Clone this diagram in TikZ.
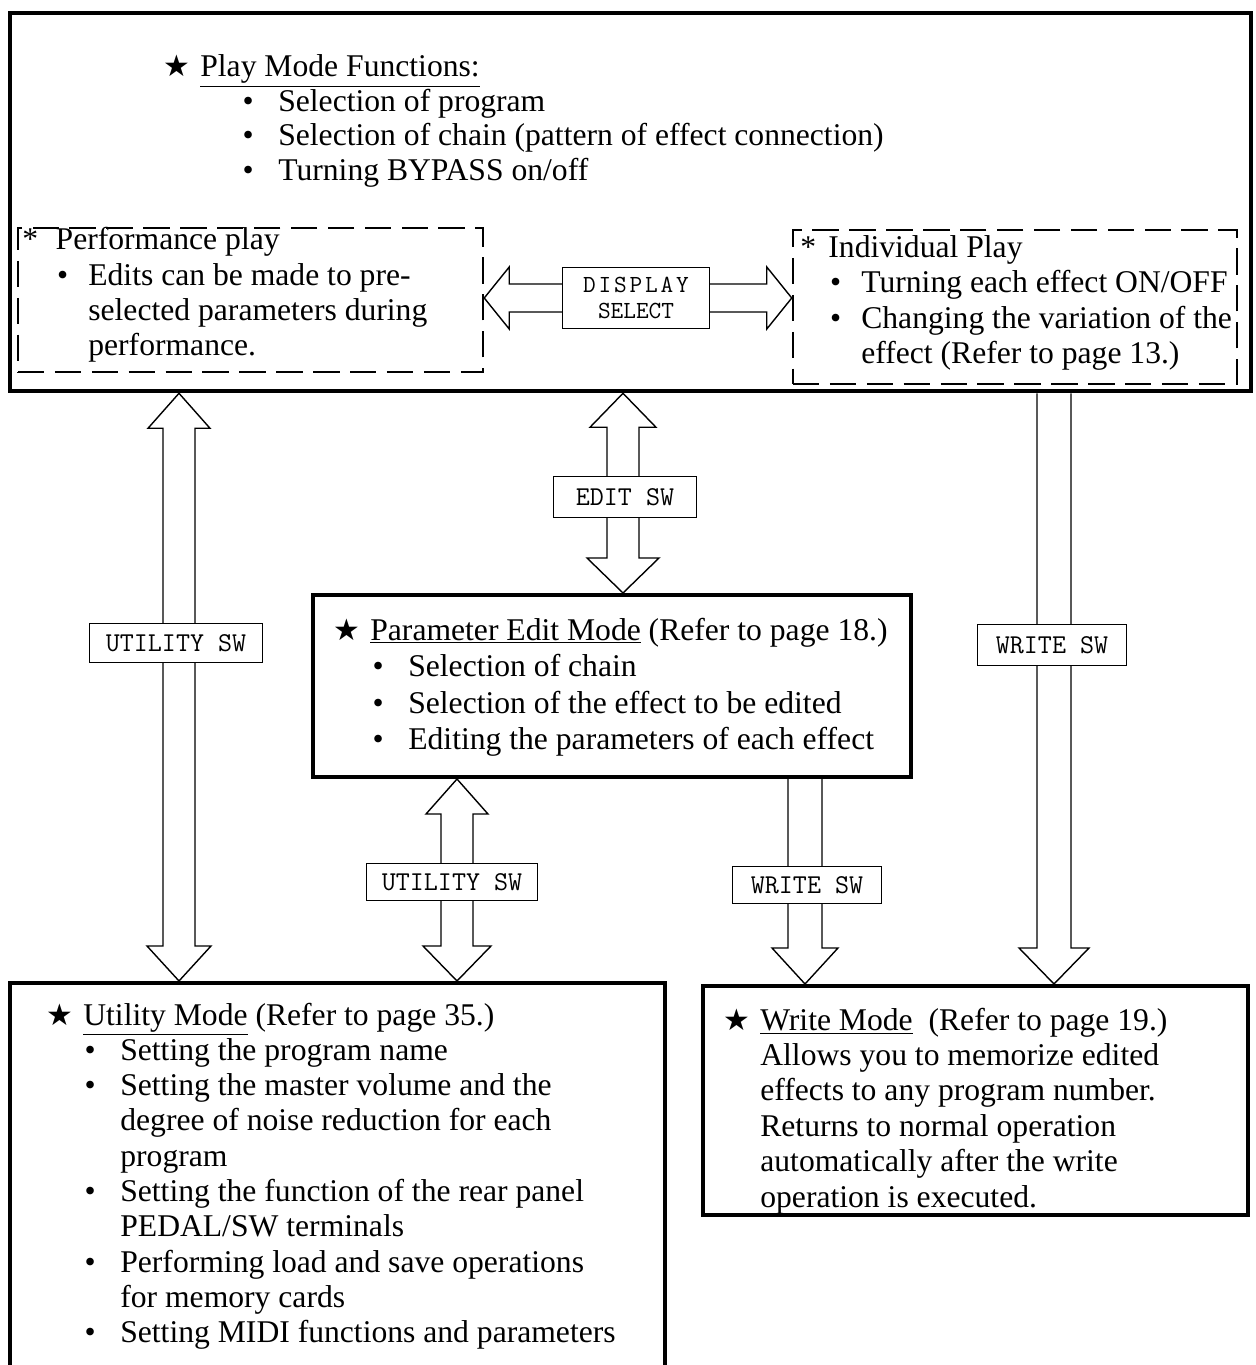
\documentclass[tikz,border=0pt]{standalone}
\usepackage{fontspec}
\setmainfont{Liberation Serif}
\newfontfamily\starfont{DejaVu Sans}
\usetikzlibrary{positioning,calc,fit,backgrounds}

\newcommand{\st}{\llap{{\starfont\fontsize{17}{17}\selectfont ★}\hspace{6pt}}}
\newcommand{\bl}{\llap{\textbullet\hspace{14pt}}}
\newcommand{\bs}{\llap{\textbullet\hspace{11.5pt}}}

\tikzset{
  modebox/.style={draw, line width=2.3pt, inner sep=0pt},
  playbox/.style={draw, line width=1.4pt, dash pattern=on 15pt off 6pt, inner sep=0pt},
  txt/.style={anchor=base west, inner sep=0pt, font=\fontsize{18}{20}\selectfont},
  fat/.style={draw, fill=white, line width=0.8pt, line join=miter},
  swlabel/.style={draw, fill=white, line width=0.6pt, inner sep=0pt, align=center,
    font=\fontsize{15.5}{13}\selectfont\ttfamily},
}

\begin{document}
\begin{tikzpicture}[x=0.02cm, y=-0.02cm]
\useasboundingbox (0,0) rectangle (1256,1365);
\clip (0,0) rectangle (1256,1365);

% mode boxes
\node[modebox, line width=2.6pt, fit={(10,13) (1251,391)}] (play) {};
\node[playbox, fit={(18,228) (483,372)}] (perf) {};
\node[playbox, fit={(793,230) (1237,384)}] (indiv) {};
\node[modebox, fit={(313,595) (911,777)}] (param) {};
\node[modebox, fit={(10,983) (665,1400)}] (util) {};
\node[modebox, fit={(703,986) (1248,1215)}] (write) {};

% arrow ends
\coordinate (a1) at (179,0 |- play.south);
\coordinate (b1) at (179,0 |- util.north);
\coordinate (a2) at (623,0 |- play.south);
\coordinate (b2) at (623,0 |- param.north);
\coordinate (a3) at (457,0 |- param.south);
\coordinate (b3) at (457,0 |- util.north);
\coordinate (a4) at (805,0 |- param.south);
\coordinate (b4) at (805,0 |- write.north);
\coordinate (a5) at (1054,0 |- play.south);
\coordinate (b5) at (1054,0 |- write.north);
\coordinate (dl) at (perf.east |- 0,298);
\coordinate (dr) at (indiv.west |- 0,298);

% fat arrows
\begin{scope}[on background layer]
\draw[fat] (a1) -- ++(-31,35) -- ++(15,0) -- ($(b1)+(-16,-35)$) -- ++(-16,0) -- (b1) -- ++(32,-35) -- ++(-16,0) -- ($(a1)+(16,35)$) -- ++(15,0) -- cycle;
\draw[fat] (a2) -- ++(-33,34) -- ++(17,0) -- ($(b2)+(-16,-35)$) -- ++(-20,0) -- (b2) -- ++(36,-35) -- ++(-20,0) -- ($(a2)+(16,34)$) -- ++(17,0) -- cycle;
\draw[fat] (a3) -- ++(-31,35) -- ++(15,0) -- ($(b3)+(-16,-35)$) -- ++(-18,0) -- (b3) -- ++(34,-35) -- ++(-18,0) -- ($(a3)+(16,35)$) -- ++(15,0) -- cycle;
\draw[fat] ($(a4)+(-17,0)$) -- ($(b4)+(-17,-36)$) -- ++(-16,0) -- (b4) -- ++(33,-36) -- ++(-16,0) -- ($(a4)+(17,0)$);
\draw[fat] ($(a5)+(-17,0)$) -- ($(b5)+(-17,-36)$) -- ++(-18,0) -- (b5) -- ++(35,-36) -- ++(-18,0) -- ($(a5)+(17,0)$);
\draw[fat] (dl) -- ++(25,-31) -- ++(0,17) -- ($(dr)+(-25,-14)$) -- ++(0,-17) -- (dr) -- ++(-25,31) -- ++(0,-17) -- ($(dl)+(25,14)$) -- ++(0,17) -- cycle;
\end{scope}

% switch labels
\node[swlabel, minimum width=98.6pt, minimum height=22.7pt] (sw1) at (176,643) {UTILITY SW};
\node[swlabel, minimum width=81.6pt, minimum height=23.2pt] (sw2) at (625,497) {EDIT SW};
\node[swlabel, minimum width=97.5pt, minimum height=21pt] (sw3) at (452,882) {UTILITY SW};
\node[swlabel, minimum width=84.5pt, minimum height=21.5pt] (sw4) at (807,885) {WRITE SW};
\node[swlabel, minimum width=84.5pt, minimum height=23.8pt] (sw5) at (1052,645) {WRITE SW};
\node[swlabel, font=\fontsize{14}{14.5}\selectfont\ttfamily, minimum width=83.9pt, minimum height=35.1pt] (disp) at (636,298)
  {D\kern1.6pt I\kern1.6pt S\kern1.6pt P\kern1.6pt L\kern1.6pt A\kern1.6pt Y\\SELECT};

% play mode
\node[txt] (pmh) at (200,77) {\st\underline{Play Mode Functions:}};
\foreach \t [count=\i] in {Selection of program, Selection of chain (pattern of effect connection), Turning BYPASS on/off}
  \node[txt] (pm\i) at (278,{77+34.5*\i}) {\bl\t};

\node[txt] (pph) at (22,250) {*\hspace{10pt}Performance play};
\foreach \t [count=\i] in {{\bs Edits can be made to pre-}, selected parameters during, performance.}
  \node[txt] (pp\i) at (88,{250+35*\i}) {\t};

\node[txt] (iph) at (800,257) {*\hspace{7pt}Individual Play};
\foreach \t [count=\i] in {{\bs Turning each effect ON/OFF}, {\bs Changing the variation of the}, effect (Refer to page 13.)}
  \node[txt] (ip\i) at (861,{257+35.5*\i}) {\t};

% parameter edit mode
\node[txt] (peh) at (370,640) {\st\underline{Parameter Edit Mode} (Refer to page 18.)};
\foreach \t [count=\i] in {Selection of chain, Selection of the effect to be edited, Editing the parameters of each effect}
  \node[txt] (pe\i) at (408,{640+36.5*\i}) {\bl\t};

% utility mode
\node[txt] (umh) at (83,1025) {\st\underline{Utility Mode} (Refer to page 35.)};
\foreach \t [count=\i] in {{\bl Setting the program name}, {\bl Setting the master volume and the},
    degree of noise reduction for each, program, {\bl Setting the function of the rear panel},
    PEDAL/SW terminals, {\bl Performing load and save operations}, for memory cards,
    {\bl Setting MIDI functions and parameters}}
  \node[txt] (um\i) at (120,{1025+35.3*\i}) {\t};

% write mode
\node[txt] (wmh) at (760,1030) {\st\underline{Write Mode}\ \ (Refer to page 19.)};
\foreach \t [count=\i] in {Allows you to memorize edited, effects to any program number., Returns to normal operation, automatically after the write, operation is executed.}
  \node[txt] (wm\i) at (760,{1030+35.4*\i}) {\t};
\end{tikzpicture}
\end{document}
